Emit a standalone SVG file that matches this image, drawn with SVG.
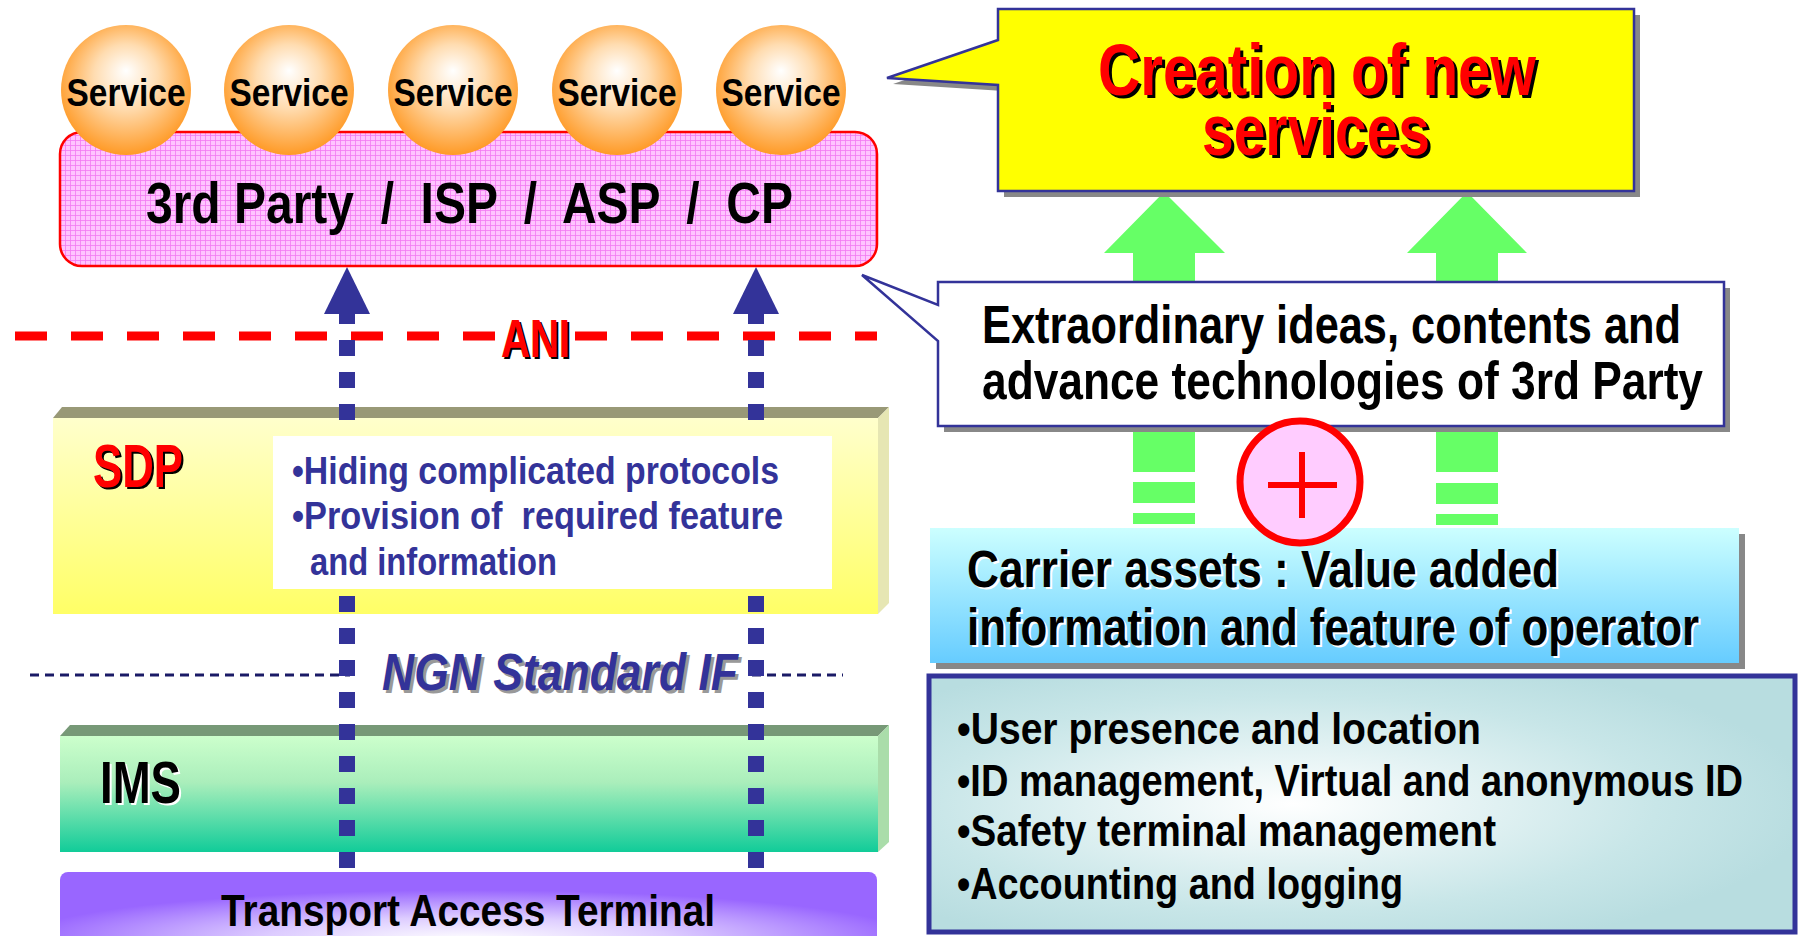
<svg xmlns="http://www.w3.org/2000/svg" width="1798" height="936" viewBox="0 0 1798 936">
<style>
text{font-family:"Liberation Sans",Arial,sans-serif;font-weight:bold}
.blk{fill:#000000}
.navy{fill:#333399}
.red{fill:#ff0000}
.shk{fill:#000000}
.shw{fill:#ffffff}
.conn{fill:none;stroke:#333399;stroke-width:16;stroke-dasharray:16 16}
.ani{fill:none;stroke:#ff0000;stroke-width:9;stroke-dasharray:32 24}
.ngn{fill:none;stroke:#1a1a66;stroke-width:3;stroke-dasharray:9 6}
.green{fill:#66ff66}
.shadow{fill:#888888}
</style>
<defs>
<radialGradient id="gSvc" cx="0.5" cy="0.45" r="0.55" fx="0.5" fy="0.35">
<stop offset="0" stop-color="#ffffff"/>
<stop offset="0.45" stop-color="#ffdcb0"/>
<stop offset="1" stop-color="#ff9a26"/>
</radialGradient>
<pattern id="pGrid" width="5" height="5" patternUnits="userSpaceOnUse">
<rect width="5" height="5" fill="#ffc4ff"/>
<path d="M0 0.5H5M0.5 0V5" stroke="#f27af2" stroke-width="0.8"/>
</pattern>
<linearGradient id="gSdp" x1="0" y1="0" x2="0" y2="1">
<stop offset="0" stop-color="#ffffcc"/>
<stop offset="1" stop-color="#ffff66"/>
</linearGradient>
<linearGradient id="gIms" x1="0" y1="0" x2="0" y2="1">
<stop offset="0" stop-color="#ccffcc"/>
<stop offset="0.4" stop-color="#aaeebb"/>
<stop offset="1" stop-color="#11cc99"/>
</linearGradient>
<radialGradient id="gTat" cx="0.5" cy="0.75" r="0.55">
<stop offset="0" stop-color="#ffffff"/>
<stop offset="0.45" stop-color="#ddccff"/>
<stop offset="1" stop-color="#9966ff"/>
</radialGradient>
<linearGradient id="gCar" x1="0" y1="0" x2="0" y2="1">
<stop offset="0" stop-color="#ccffff"/>
<stop offset="1" stop-color="#66ccff"/>
</linearGradient>
<radialGradient id="gAst" cx="0.42" cy="0.5" r="0.6">
<stop offset="0" stop-color="#ffffff"/>
<stop offset="0.7" stop-color="#c8e6e8"/>
<stop offset="1" stop-color="#b8dde0"/>
</radialGradient>
<marker id="mArrow" markerUnits="userSpaceOnUse" markerWidth="47" markerHeight="46" viewBox="0 0 47 46" refX="0" refY="23" orient="auto">
<path d="M0,0 L47,23 L0,46 Z" fill="#333399"/>
</marker>
</defs>

<!-- layers -->
<g id="sdp">
<polygon points="53,418 62,407 889,407 878,418" fill="#999977"/>
<polygon points="878,418 889,407 889,603 878,614" fill="#e6e6b3"/>
<rect x="53" y="418" width="825" height="196" fill="url(#gSdp)"/>
<text x="95" y="489" class="shk" font-size="61" textLength="90" lengthAdjust="spacingAndGlyphs">SDP</text>
<text x="93" y="487" class="red" font-size="61" textLength="90" lengthAdjust="spacingAndGlyphs">SDP</text>
</g>

<g id="ims">
<polygon points="60,736 70,725 889,725 878,736" fill="#779977"/>
<polygon points="878,736 889,725 889,842 878,852" fill="#aaddaa"/>
<rect x="60" y="736" width="818" height="116" fill="url(#gIms)"/>
<text x="102" y="805" class="shw" font-size="60" textLength="81" lengthAdjust="spacingAndGlyphs">IMS</text>
<text x="100" y="803" class="blk" font-size="60" textLength="81" lengthAdjust="spacingAndGlyphs">IMS</text>
</g>

<g id="transport">
<rect x="60" y="872" width="817" height="90" rx="8" fill="url(#gTat)"/>
<text x="221" y="926" class="blk" font-size="45" textLength="494" lengthAdjust="spacingAndGlyphs">Transport Access Terminal</text>
</g>

<g id="ani">
<path class="ani" d="M15,336 H495"/>
<path class="ani" d="M575,336 H877"/>
<text x="503" y="359" class="shk" font-size="54" textLength="69" lengthAdjust="spacingAndGlyphs">ANI</text>
<text x="501" y="357" class="red" font-size="54" textLength="69" lengthAdjust="spacingAndGlyphs">ANI</text>
</g>

<g id="ngn-if">
<path class="ngn" d="M30,675 H350"/>
<path class="ngn" d="M752,675 H843"/>
<text x="385" y="693" fill="#999999" font-size="51" font-style="italic" textLength="356" lengthAdjust="spacingAndGlyphs">NGN Standard IF</text>
<text x="382" y="690" class="navy" font-size="51" font-style="italic" textLength="356" lengthAdjust="spacingAndGlyphs">NGN Standard IF</text>
</g>

<!-- connectors -->
<g id="connectors">
<path class="conn" d="M347,868 V314" marker-end="url(#mArrow)"/>
<path class="conn" d="M756,868 V314" marker-end="url(#mArrow)"/>
<polygon class="green" points="1164,192 1225,253 1195,253 1195,284 1133,284 1133,253 1104,253"/>
<polygon class="green" points="1467,192 1527,253 1498,253 1498,284 1436,284 1436,253 1407,253"/>
<rect class="green" x="1133" y="426" width="62" height="46"/>
<rect class="green" x="1133" y="482" width="62" height="21"/>
<rect class="green" x="1133" y="513" width="62" height="11"/>
<rect class="green" x="1436" y="426" width="62" height="46"/>
<rect class="green" x="1436" y="483" width="62" height="21"/>
<rect class="green" x="1436" y="514" width="62" height="11"/>
</g>

<g id="sdp-note">
<rect x="273" y="436" width="559" height="153" fill="#ffffff"/>
<text x="292" y="484" class="navy" font-size="38" textLength="487" lengthAdjust="spacingAndGlyphs">•Hiding complicated protocols</text>
<text x="292" y="529" class="navy" font-size="38" textLength="491" lengthAdjust="spacingAndGlyphs" xml:space="preserve">•Provision of  required feature</text>
<text x="310" y="575" class="navy" font-size="38" textLength="247" lengthAdjust="spacingAndGlyphs">and information</text>
</g>

<g id="third-party">
<rect x="60" y="132" width="817" height="134" rx="22" fill="url(#pGrid)" stroke="#ff0000" stroke-width="2.5"/>
<text x="146" y="223" class="blk" font-size="57" textLength="647" lengthAdjust="spacingAndGlyphs" xml:space="preserve">3rd Party  /  ISP  /  ASP  /  CP</text>
</g>

<g id="service-1"><ellipse cx="126" cy="90" rx="65" ry="65" fill="url(#gSvc)"/><text x="126" y="106" class="blk" font-size="39" text-anchor="middle" textLength="119" lengthAdjust="spacingAndGlyphs">Service</text></g>
<g id="service-2"><ellipse cx="289" cy="90" rx="65" ry="65" fill="url(#gSvc)"/><text x="289" y="106" class="blk" font-size="39" text-anchor="middle" textLength="119" lengthAdjust="spacingAndGlyphs">Service</text></g>
<g id="service-3"><ellipse cx="453" cy="90" rx="65" ry="65" fill="url(#gSvc)"/><text x="453" y="106" class="blk" font-size="39" text-anchor="middle" textLength="119" lengthAdjust="spacingAndGlyphs">Service</text></g>
<g id="service-4"><ellipse cx="617" cy="90" rx="65" ry="65" fill="url(#gSvc)"/><text x="617" y="106" class="blk" font-size="39" text-anchor="middle" textLength="119" lengthAdjust="spacingAndGlyphs">Service</text></g>
<g id="service-5"><ellipse cx="781" cy="90" rx="65" ry="65" fill="url(#gSvc)"/><text x="781" y="106" class="blk" font-size="39" text-anchor="middle" textLength="119" lengthAdjust="spacingAndGlyphs">Service</text></g>

<g id="creation">
<path class="shadow" d="M1004,15 H1640 V197 H1004 V91 L893,84 L1004,46 Z"/>
<path d="M998,9 H1634 V191 H998 V85 L887,78 L998,40 Z" fill="#ffff00" stroke="#333399" stroke-width="2.5"/>
<text x="1101" y="98" class="shk" font-size="72" textLength="438" lengthAdjust="spacingAndGlyphs">Creation of new</text>
<text x="1098" y="95" class="red" font-size="72" textLength="438" lengthAdjust="spacingAndGlyphs">Creation of new</text>
<text x="1205" y="158" class="shk" font-size="72" textLength="228" lengthAdjust="spacingAndGlyphs">services</text>
<text x="1202" y="155" class="red" font-size="72" textLength="228" lengthAdjust="spacingAndGlyphs">services</text>
</g>

<g id="ideas">
<rect class="shadow" x="944" y="288" width="786" height="144"/>
<path d="M938,282 H1724 V426 H938 V341 L862,275 L938,305 Z" fill="#ffffff" stroke="#333399" stroke-width="2.5"/>
<text x="982" y="343" class="blk" font-size="53" textLength="699" lengthAdjust="spacingAndGlyphs">Extraordinary ideas, contents and</text>
<text x="982" y="399" class="blk" font-size="53" textLength="721" lengthAdjust="spacingAndGlyphs">advance technologies of 3rd Party</text>
</g>

<g id="carrier">
<rect class="shadow" x="936" y="534" width="809" height="135"/>
<rect x="930" y="528" width="809" height="135" fill="url(#gCar)"/>
<text x="969" y="589" class="shw" font-size="51" textLength="592" lengthAdjust="spacingAndGlyphs">Carrier assets : Value added</text>
<text x="967" y="587" class="blk" font-size="51" textLength="592" lengthAdjust="spacingAndGlyphs">Carrier assets : Value added</text>
<text x="969" y="647" class="shw" font-size="51" textLength="732" lengthAdjust="spacingAndGlyphs">information and feature of operator</text>
<text x="967" y="645" class="blk" font-size="51" textLength="732" lengthAdjust="spacingAndGlyphs">information and feature of operator</text>
</g>

<g id="plus">
<ellipse cx="1300" cy="482" rx="60" ry="61" fill="#ffccff" stroke="#ff0000" stroke-width="7"/>
<path d="M1268,485 H1337 M1302,452 V518" stroke="#ff0000" stroke-width="6" fill="none"/>
</g>

<g id="assets">
<rect x="929" y="676" width="866" height="256" fill="url(#gAst)" stroke="#333399" stroke-width="5"/>
<text x="957" y="744" class="blk" font-size="45" textLength="524" lengthAdjust="spacingAndGlyphs">•User presence and location</text>
<text x="957" y="796" class="blk" font-size="45" textLength="786" lengthAdjust="spacingAndGlyphs">•ID management, Virtual and anonymous ID</text>
<text x="957" y="846" class="blk" font-size="45" textLength="539" lengthAdjust="spacingAndGlyphs">•Safety terminal management</text>
<text x="957" y="899" class="blk" font-size="45" textLength="446" lengthAdjust="spacingAndGlyphs">•Accounting and logging</text>
</g>
</svg>
